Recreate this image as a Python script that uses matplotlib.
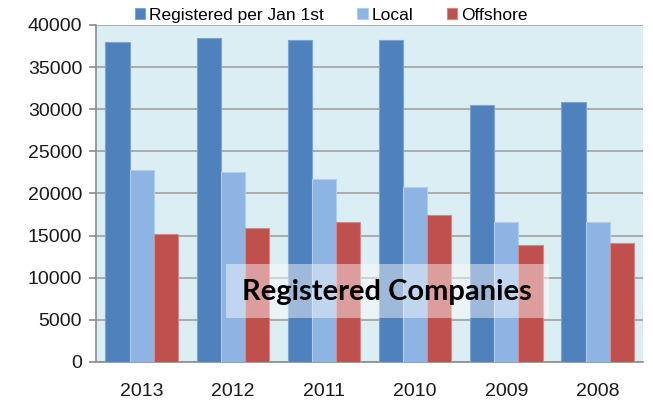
import matplotlib.pyplot as plt
import numpy as np

# values
years = ['2013', '2012', '2011', '2010', '2009', '2008']
registered = [38000, 38400, 38250, 38250, 30450, 30800]
local = [22800, 22500, 21650, 20750, 16650, 16650]
offshore = [15150, 15900, 16650, 17400, 13850, 14100]

series = [('Registered per Jan 1st', registered, '#4F81BD', '#7FA3D3'),
          ('Local', local, '#8EB4E3', '#B3CDEE'),
          ('Offshore', offshore, '#C0504D', '#D98684')]

plt.rcParams['font.family'] = ['Liberation Sans', 'DejaVu Sans']

fig = plt.figure(figsize=(6.53, 4.08), dpi=100)
ax = fig.add_axes([0.147, 0.113, 0.838, 0.826])
ax.set_facecolor('#DBEEF4')

x = np.arange(len(years))
w = 0.265
for i, (name, vals, col, edge) in enumerate(series):
    ax.bar(x + (i - 1) * w, vals, w, color=col, edgecolor=edge,
           linewidth=0.8, label=name, zorder=3)

ax.set_xlim(-0.5, len(years) - 0.5)
ax.set_ylim(0, 40000)
ax.set_yticks(range(0, 40001, 5000))
ax.set_xticks(x)
ax.set_xticklabels(years)
ax.tick_params(axis='y', labelsize=14, colors='#8C8C8C', labelcolor='#1a1a1a',
               length=5, width=1.2, pad=5)
ax.tick_params(axis='x', labelsize=14, length=0, labelcolor='#1a1a1a', pad=15)
ax.yaxis.grid(True, color='#A6A6A6', linewidth=1.3, zorder=1)
ax.set_axisbelow(True)
for s in ['top', 'right']:
    ax.spines[s].set_visible(False)
for s in ['left', 'bottom']:
    ax.spines[s].set_color('#8C8C8C')
    ax.spines[s].set_linewidth(1.2)

leg = ax.legend(loc='lower center', bbox_to_anchor=(0.43, 0.985), ncol=3,
                frameon=False, fontsize=12.5, handlelength=0.6, handleheight=0.6,
                handletextpad=0.25, columnspacing=1.9, borderaxespad=0)

# title box inside the plot
ax.add_patch(plt.Rectangle((0.238, 0.13), 0.59, 0.16, transform=ax.transAxes,
                           facecolor='white', alpha=0.45, edgecolor='none',
                           zorder=4))
ax.text(0.531, 0.208, 'Registered Companies', transform=ax.transAxes,
        ha='center', va='center', fontsize=21, fontweight='bold',
        family=['Lato', 'DejaVu Sans'], color='black', zorder=5)

plt.savefig('out.png', dpi=100)
